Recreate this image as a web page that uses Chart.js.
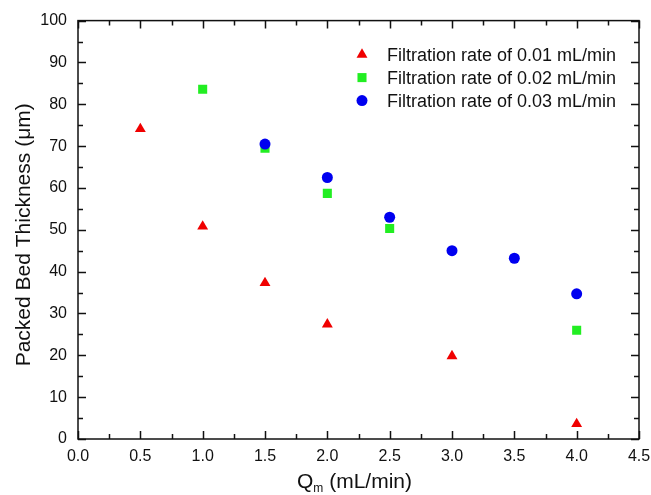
<!DOCTYPE html>
<html>
<head>
<meta charset="utf-8">
<script src="https://cdn.jsdelivr.net/npm/chart.js@4.4.1/dist/chart.umd.min.js"></script>
<style>
  html, body { margin: 0; padding: 0; background: #fff; }
  #wrap { width: 651px; height: 495px; }
</style>
</head>
<body>
<div id="wrap"><canvas id="thicknessChart" width="651" height="495"></canvas></div>
<script>
// values: Qm (mL/min) vs packed bed thickness (um)
const qRate1 = [0.5, 1.0, 1.5, 2.0, 3.0, 4.0];
const thick1 = [74.1, 50.8, 37.3, 27.4, 19.8, 3.6];

const qRate2 = [1.0, 1.5, 2.0, 2.5, 4.0];
const thick2 = [83.6, 69.5, 58.7, 50.3, 26.0];

const qRate3 = [1.5, 2.0, 2.5, 3.0, 3.5, 4.0];
const thick3 = [70.5, 62.5, 53.0, 45.0, 43.2, 34.7];

const seriesNames = [
  "Filtration rate of 0.01 mL/min",
  "Filtration rate of 0.02 mL/min",
  "Filtration rate of 0.03 mL/min"
];

// axis ticks
const xMajor = [0, 0.5, 1.0, 1.5, 2.0, 2.5, 3.0, 3.5, 4.0, 4.5];
const xMinor = [0.25, 0.75, 1.25, 1.75, 2.25, 2.75, 3.25, 3.75, 4.25];
const yMajor = [0, 10, 20, 30, 40, 50, 60, 70, 80, 90, 100];
const yMinor = [5, 15, 25, 35, 45, 55, 65, 75, 85, 95];

const xTitleMain = "Q";
const xTitleSub = "m";
const xTitleUnit = " (mL/min)";
const yTitle = "Packed Bed Thickness (\u03bcm)";

const FONT = "'Liberation Sans', Arial, sans-serif";
const INK = "#111";

function pairs(xs, ys) {
  return xs.map((x, i) => ({ x: x, y: ys[i] }));
}

// frame on all four sides + inward major/minor ticks
const frameTicks = {
  id: "frameTicks",
  beforeDatasetsDraw(chart) {
    const ctx = chart.ctx;
    const a = chart.chartArea;
    const xs = chart.scales.x, ys = chart.scales.y;
    ctx.save();
    ctx.strokeStyle = INK;
    ctx.lineWidth = 1.5;
    ctx.beginPath();
    xMajor.concat(xMinor).forEach(v => {
      const len = xMajor.includes(v) ? 8 : 5;
      const px = Math.round(xs.getPixelForValue(v)) + 0.5;
      ctx.moveTo(px, a.bottom); ctx.lineTo(px, a.bottom - len);
      ctx.moveTo(px, a.top); ctx.lineTo(px, a.top + len);
    });
    yMajor.concat(yMinor).forEach(v => {
      const len = yMajor.includes(v) ? 8 : 5;
      const py = Math.round(ys.getPixelForValue(v)) + 0.5;
      ctx.moveTo(a.left, py); ctx.lineTo(a.left + len, py);
      ctx.moveTo(a.right, py); ctx.lineTo(a.right - len, py);
    });
    ctx.stroke();
    ctx.strokeRect(a.left, a.top, a.right - a.left, a.bottom - a.top);
    ctx.restore();
  }
};

// legend inside the plot, top right, plus the axis titles
const legendTitles = {
  id: "legendTitles",
  afterDraw(chart) {
    const ctx = chart.ctx;
    const a = chart.chartArea;
    ctx.save();

    // legend
    ctx.font = "18px " + FONT;
    ctx.textBaseline = "middle";
    ctx.textAlign = "left";
    chart.data.datasets.forEach((ds, i) => {
      const y = a.top + 34 + i * 23;
      ctx.fillStyle = ds.backgroundColor;
      Chart.helpers.drawPoint(ctx, {
        pointStyle: ds.pointStyle,
        radius: ds.pointRadius,
        rotation: 0,
        borderWidth: 0
      }, a.right - 277, y);
      ctx.fillStyle = INK;
      ctx.fillText(ds.label, a.right - 252, y + 1);
    });

    // y title
    ctx.fillStyle = INK;
    ctx.font = "21px " + FONT;
    ctx.textAlign = "center";
    ctx.translate(24, (a.top + a.bottom) / 2 + 5);
    ctx.rotate(-Math.PI / 2);
    ctx.fillText(yTitle, 0, 0);
    ctx.setTransform(1, 0, 0, 1, 0, 0);

    // x title with subscript
    ctx.textAlign = "left";
    ctx.textBaseline = "alphabetic";
    const big = "21px " + FONT, small = "12px " + FONT;
    ctx.font = big;
    const w1 = ctx.measureText(xTitleMain).width;
    const w3 = ctx.measureText(xTitleUnit).width;
    ctx.font = small;
    const w2 = ctx.measureText(xTitleSub).width;
    let x = (a.left + a.right) / 2 - 4 - (w1 + w2 + w3) / 2;
    const base = 488;
    ctx.font = big;
    ctx.fillText(xTitleMain, x, base);
    x += w1;
    ctx.font = small;
    ctx.fillText(xTitleSub, x, base + 4);
    x += w2;
    ctx.font = big;
    ctx.fillText(xTitleUnit, x, base);

    ctx.restore();
  }
};

new Chart(document.getElementById("thicknessChart"), {
  type: "scatter",
  data: {
    datasets: [{
      label: seriesNames[0],
      data: pairs(qRate1, thick1),
      pointStyle: "triangle",
      pointRadius: 6.3,
      backgroundColor: "#f00000",
      borderWidth: 0,
      order: 3
    }, {
      label: seriesNames[1],
      data: pairs(qRate2, thick2),
      pointStyle: "rect",
      pointRadius: 6.4,
      backgroundColor: "#22ee22",
      borderWidth: 0,
      order: 2
    }, {
      label: seriesNames[2],
      data: pairs(qRate3, thick3),
      pointStyle: "circle",
      pointRadius: 5.5,
      backgroundColor: "#0000f0",
      borderWidth: 0,
      order: 1
    }]
  },
  options: {
    responsive: false,
    animation: false,
    events: [],
    layout: { padding: { top: 19, right: 12, left: 0, bottom: 0 } },
    plugins: {
      legend: { display: false },
      tooltip: { enabled: false }
    },
    scales: {
      x: {
        type: "linear",
        min: 0,
        max: 4.5,
        afterBuildTicks: s => { s.ticks = xMajor.map(v => ({ value: v })); },
        afterFit: s => { s.height = 56; s.paddingRight = 0; s.paddingLeft = 0; },
        ticks: {
          padding: 8,
          autoSkip: false,
          maxRotation: 0,
          minRotation: 0,
          color: INK,
          font: { family: FONT, size: 16 },
          callback: v => Number(v).toFixed(1)
        },
        grid: { display: false, drawTicks: false },
        border: { display: false }
      },
      y: {
        type: "linear",
        min: 0,
        max: 100,
        afterBuildTicks: s => { s.ticks = yMajor.map(v => ({ value: v })); },
        afterFit: s => { s.width = 78; },
        ticks: {
          padding: 11,
          autoSkip: false,
          color: INK,
          font: { family: FONT, size: 16 },
          callback: v => String(v)
        },
        grid: { display: false, drawTicks: false },
        border: { display: false }
      }
    }
  },
  plugins: [frameTicks, legendTitles]
});
</script>
</body>
</html>
